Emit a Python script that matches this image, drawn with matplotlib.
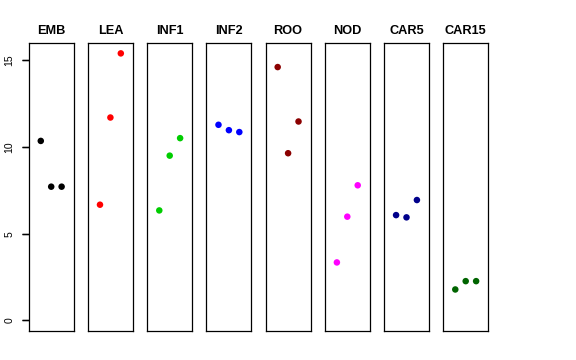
import matplotlib
matplotlib.use("Agg")
import matplotlib.pyplot as plt

groups = ["EMB", "LEA", "INF1", "INF2", "ROO", "NOD", "CAR5", "CAR15"]
colors = ["black", "red", "#00CD00", "blue", "#8B0000", "magenta", "#00008B", "#006400"]
xs = [1, 2, 3]
vals_EMB = [10.35, 7.71, 7.71]
vals_LEA = [6.67, 11.70, 15.40]
vals_INF1 = [6.34, 9.50, 10.51]
vals_INF2 = [11.28, 10.97, 10.86]
vals_ROO = [14.61, 9.64, 11.47]
vals_NOD = [3.34, 5.98, 7.79]
vals_CAR5 = [6.07, 5.94, 6.94]
vals_CAR15 = [1.78, 2.26, 2.26]
series = [vals_EMB, vals_LEA, vals_INF1, vals_INF2, vals_ROO, vals_NOD, vals_CAR5, vals_CAR15]
yticks = [0, 5, 10, 15]

plt.rcParams['font.family'] = ['Liberation Sans', 'DejaVu Sans']

W, H = 576, 360
fig = plt.figure(figsize=(W / 100, H / 100), dpi=100)

lefts = [28.7, 87.9, 147.2, 206.4, 265.6, 324.8, 384.0, 443.2]
pw = 45.0
top_px, bot_px = 42.7, 331.0

ymax = max(max(s) for s in series)
ypad = 0.04 * ymax
for i, (g, c, v) in enumerate(zip(groups, colors, series)):
    ax = fig.add_axes([lefts[i] / W, 1 - bot_px / H, pw / W, (bot_px - top_px) / H])
    ax.scatter(xs, v, s=22, color=c, edgecolors='none', zorder=3)
    ax.set_xlim(-0.16, 4.16)
    ax.set_ylim(0 - ypad, ymax + ypad)
    ax.set_xticks([])
    ax.set_title(g, fontsize=9.2, fontweight='bold', pad=6)
    for sp in ax.spines.values():
        sp.set_linewidth(0.9)
        sp.set_color('black')
    if i == 0:
        ax.set_yticks(yticks)
        ax.set_yticklabels([str(t) for t in yticks], rotation=90, va='center', fontsize=7.5)
        ax.tick_params(axis='y', left=True, direction='out', length=5.2, width=0.9,
                       color='black', pad=5)
        ax.hlines(yticks, -7.0 / pw, 0, colors='black', lw=1.0,
                  transform=ax.get_yaxis_transform(), clip_on=False, zorder=5)
    else:
        ax.set_yticks([])

fig.savefig("out.png", dpi=100, facecolor='white')
